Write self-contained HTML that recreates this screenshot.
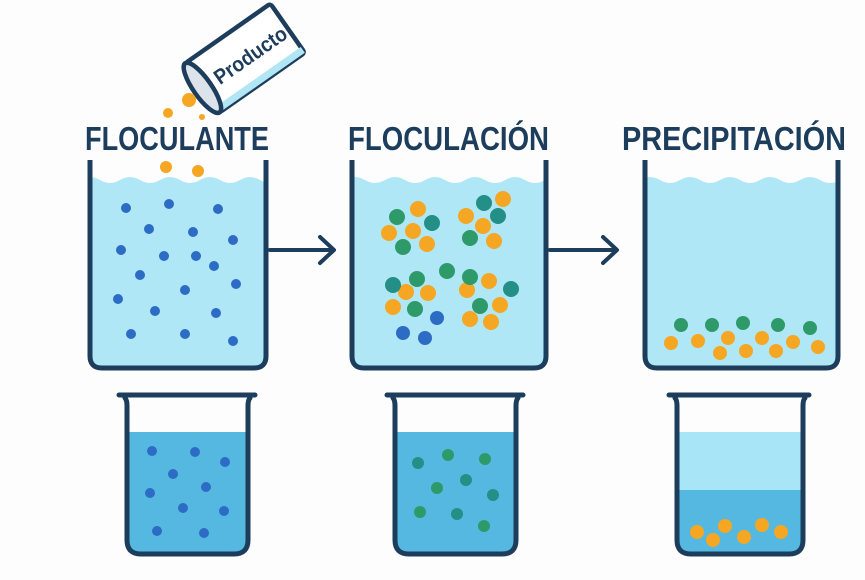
<!DOCTYPE html>
<html><head><meta charset="utf-8"><style>html,body{margin:0;padding:0;background:#fdfdfd}svg{display:block}</style></head>
<body>
<svg width="865" height="580" viewBox="0 0 865 580" xmlns="http://www.w3.org/2000/svg" font-family="Liberation Sans, sans-serif">
<rect width="865" height="580" fill="#fdfdfd"/>
<defs>
<path id="wave" d="M0 0 q10 -6 20 0 t20 0 t20 0 t20 0 t20 0 t20 0 t20 0 t20 0 t20 0 t20 0 v200 h-200z"/>
</defs>
<g fill="#1d3d5c" font-weight="bold" font-size="33">
<text x="85" y="150" textLength="184" lengthAdjust="spacingAndGlyphs">FLOCULANTE</text>
<text x="348" y="150" textLength="201" lengthAdjust="spacingAndGlyphs">FLOCULACIÓN</text>
<text x="622" y="150" textLength="224" lengthAdjust="spacingAndGlyphs">PRECIPITACIÓN</text>
</g>
<g transform="translate(245,58) rotate(-35)">
<rect x="-52" y="-30" width="104" height="60" rx="3" fill="#fff" stroke="#1d3d5c" stroke-width="4.5"/>
<path d="M-52 30 h104 l0 -7 h-104z" fill="#b3e6f5"/>
<ellipse cx="-52" cy="0" rx="9" ry="30" fill="#dde3ea" stroke="#1d3d5c" stroke-width="4.5"/>
<text x="6" y="8" text-anchor="middle" font-size="21" font-weight="bold" fill="#1d3d5c" textLength="84" lengthAdjust="spacingAndGlyphs">Producto</text>
</g>
<g>
<clipPath id="c1"><rect x="90" y="160" width="176" height="206" rx="10"/></clipPath>
<g clip-path="url(#c1)"><use href="#wave" transform="translate(80,180)" fill="#b0e7f7"/></g>
<path d="M90 160 V356 q0 12 12 12 H254 q12 0 12 -12 V160" fill="none" stroke="#1d3d5c" stroke-width="5"/>
<clipPath id="c2"><rect x="352" y="160" width="194" height="206" rx="10"/></clipPath>
<g clip-path="url(#c2)"><use href="#wave" transform="translate(345,180)" fill="#b0e7f7"/></g>
<path d="M352 160 V356 q0 12 12 12 H534 q12 0 12 -12 V160" fill="none" stroke="#1d3d5c" stroke-width="5"/>
<clipPath id="c3"><rect x="645" y="160" width="193" height="206" rx="10"/></clipPath>
<g clip-path="url(#c3)"><use href="#wave" transform="translate(640,180)" fill="#b0e7f7"/></g>
<path d="M645 160 V356 q0 12 12 12 H826 q12 0 12 -12 V160" fill="none" stroke="#1d3d5c" stroke-width="5"/>
</g>
<g stroke="#1d3d5c" stroke-width="4" fill="none" stroke-linecap="round" stroke-linejoin="round">
<path d="M270 250 H333 M320 237 L334 250 L320 263"/>
<path d="M550 250 H616 M603 237 L617 250 L603 263"/>
</g>
<g fill="#f5a623">
<circle cx="189" cy="100" r="7"/><circle cx="168" cy="113" r="5"/><circle cx="202" cy="117" r="3"/><circle cx="166" cy="167" r="6"/><circle cx="198" cy="171" r="6"/>
</g>
<g fill="#2d6cc4">
<circle cx="126" cy="208" r="5"/><circle cx="169" cy="204" r="5"/><circle cx="218" cy="209" r="5"/><circle cx="149" cy="229" r="5"/><circle cx="193" cy="232" r="5"/><circle cx="233" cy="240" r="5"/><circle cx="121" cy="250" r="5"/><circle cx="164" cy="256" r="5"/><circle cx="196" cy="256" r="5"/><circle cx="140" cy="275" r="5"/><circle cx="214" cy="266" r="5"/><circle cx="236" cy="284" r="5"/><circle cx="118" cy="299" r="5"/><circle cx="185" cy="290" r="5"/><circle cx="155" cy="311" r="5"/><circle cx="216" cy="313" r="5"/><circle cx="131" cy="334" r="5"/><circle cx="185" cy="334" r="5"/><circle cx="233" cy="341" r="5"/>
<circle cx="437" cy="318" r="7"/><circle cx="403" cy="333" r="7"/><circle cx="425" cy="338" r="7"/>
</g>
<g fill="#f5a623">
<circle cx="418" cy="209" r="8"/><circle cx="389" cy="233" r="8"/><circle cx="413" cy="231" r="8"/><circle cx="427" cy="244" r="8"/>
<circle cx="503" cy="199" r="8"/><circle cx="466" cy="216" r="8"/><circle cx="483" cy="226" r="8"/><circle cx="494" cy="241" r="8"/>
<circle cx="406" cy="292" r="8"/><circle cx="428" cy="293" r="8"/><circle cx="393" cy="307" r="8"/>
<circle cx="489" cy="281" r="8"/><circle cx="467" cy="290" r="8"/><circle cx="500" cy="305" r="8"/><circle cx="470" cy="319" r="8"/><circle cx="491" cy="322" r="8"/>
<circle cx="671" cy="343" r="7"/><circle cx="698" cy="341" r="7"/><circle cx="720" cy="353" r="7"/><circle cx="728" cy="338" r="7"/><circle cx="746" cy="351" r="7"/><circle cx="762" cy="338" r="7"/><circle cx="776" cy="351" r="7"/><circle cx="793" cy="342" r="7"/><circle cx="818" cy="347" r="7"/>
</g>
<g fill="#2e9a6a">
<circle cx="397" cy="217" r="8"/><circle cx="403" cy="247" r="8"/><circle cx="470" cy="238" r="8"/><circle cx="417" cy="279" r="8"/><circle cx="415" cy="309" r="8"/><circle cx="447" cy="271" r="8"/><circle cx="470" cy="277" r="8"/><circle cx="480" cy="306" r="8"/>
<circle cx="681" cy="325" r="7"/><circle cx="712" cy="325" r="7"/><circle cx="743" cy="323" r="7"/><circle cx="778" cy="325" r="7"/><circle cx="810" cy="328" r="7"/>
</g>
<g fill="#238f86">
<circle cx="432" cy="223" r="8"/><circle cx="484" cy="203" r="8"/><circle cx="498" cy="216" r="8"/><circle cx="393" cy="285" r="8"/><circle cx="511" cy="289" r="8"/>
</g>
<g>
<path d="M125 432 H248 V540 q0 14 -14 14 H139 q-14 0 -14 -14z" fill="#55b8e0"/>
<path d="M119 395 H255 M125 398 q2 2 2 8 V540 q0 14 14 14 H234 q14 0 14 -14 V406 q0 -6 2 -8" fill="none" stroke="#1d3d5c" stroke-width="5" stroke-linecap="round"/>
<path d="M393 432 H516 V540 q0 14 -14 14 H407 q-14 0 -14 -14z" fill="#55b8e0"/>
<path d="M387 395 H523 M393 398 q2 2 2 8 V540 q0 14 14 14 H502 q14 0 14 -14 V406 q0 -6 2 -8" fill="none" stroke="#1d3d5c" stroke-width="5" stroke-linecap="round"/>
<rect x="675" y="432" width="128" height="60" fill="#a8e6f7"/>
<path d="M675 490 H803 V540 q0 14 -14 14 H689 q-14 0 -14 -14z" fill="#55b8e0"/>
<path d="M669 395 H809 M675 398 q2 2 2 8 V540 q0 14 14 14 H789 q14 0 14 -14 V406 q0 -6 2 -8" fill="none" stroke="#1d3d5c" stroke-width="5" stroke-linecap="round"/>
</g>
<g fill="#2d6cc4">
<circle cx="152" cy="451" r="5"/><circle cx="195" cy="452" r="5"/><circle cx="225" cy="462" r="5"/><circle cx="173" cy="474" r="5"/><circle cx="206" cy="487" r="5"/><circle cx="150" cy="493" r="5"/><circle cx="183" cy="508" r="5"/><circle cx="224" cy="511" r="5"/><circle cx="157" cy="531" r="5"/><circle cx="204" cy="533" r="5"/>
</g>
<g fill="#2e9a6a">
<circle cx="448" cy="455" r="6"/><circle cx="485" cy="459" r="6"/><circle cx="437" cy="488" r="6"/><circle cx="420" cy="512" r="6"/><circle cx="484" cy="526" r="6"/>
</g>
<g fill="#238f86">
<circle cx="418" cy="463" r="6"/><circle cx="466" cy="480" r="6"/><circle cx="493" cy="495" r="6"/><circle cx="457" cy="514" r="6"/>
</g>
<g fill="#f5a623">
<circle cx="697" cy="532" r="7"/><circle cx="713" cy="540" r="7"/><circle cx="725" cy="526" r="7"/><circle cx="744" cy="537" r="7"/><circle cx="762" cy="525" r="7"/><circle cx="781" cy="532" r="7"/>
</g>
</svg>
</body></html>
